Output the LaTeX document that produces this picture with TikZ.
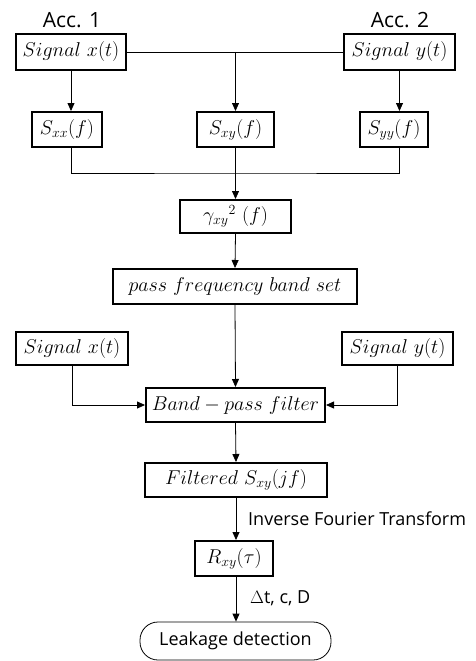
\RequirePackage{fix-cm}
\documentclass[tikz,border=0pt]{standalone}
\usepackage{fontspec}
\setsansfont{Open Sans}
\usepackage{tikz}
\usetikzlibrary{arrows.meta}

\begin{document}
\begin{tikzpicture}[
  x=1pt, y=-1pt,
  blk/.style={draw, line width=2pt, inner sep=0pt, minimum height=35pt, align=center, font=\fontsize{20}{23}\selectfont},
  acctitle/.style={font=\sffamily\fontsize{21}{24}\selectfont},
  note/.style={anchor=west, inner sep=0pt, font=\sffamily\fontsize{18}{21}\selectfont},
  flow/.style={line width=0.8pt, -{Triangle[length=8pt,width=7pt]}},
  wire/.style={line width=0.8pt}
]
\useasboundingbox (0,0) rectangle (475,661);

% Accelerometers
\node[acctitle] (acc1) at (72,20) {Acc. 1};
\node[acctitle] (acc2) at (400,20) {Acc. 2};
\node[blk, minimum width=110pt, minimum height=36pt] (sigx) at (71,52) {$Signal\ x(t)$};
\node[blk, minimum width=111pt, minimum height=36pt] (sigy) at (399.5,52) {$Signal\ y(t)$};

% Spectra
\node[blk, minimum width=70pt] (sxx) at (67,129.5) {$S_{xx}(f)$};
\node[blk, minimum width=77pt] (sxy) at (235.5,129.5) {$S_{xy}(f)$};
\node[blk, minimum width=68pt] (syy) at (394,129.5) {$S_{yy}(f)$};
\coordinate (join) at (235.5,173);

% Coherence and band
\node[blk, minimum width=111pt, minimum height=33pt] (coh) at (235.5,216.5) {$\gamma_{xy}{}^{2}\ (f)$};
\node[blk, minimum width=244pt] (band) at (235,286.5) {$pass\ frequency\ band\ set$};

% Filtering
\node[blk, minimum width=112pt, minimum height=33pt] (sigxb) at (72,348.5) {$Signal\ x(t)$};
\node[blk, minimum width=111pt, minimum height=33pt] (sigyb) at (397.5,348.5) {$Signal\ y(t)$};
\node[blk, minimum width=179pt, minimum height=34pt] (bpf) at (235.5,405) {$Band - pass\ filter$};
\node[blk, minimum width=182pt, minimum height=34pt] (filt) at (236,480) {$Filtered\ S_{xy}(jf)$};

% Correlation and result
\node[blk, minimum width=78pt] (rxy) at (234,558.5) {$R_{xy}(\tau)$};
\node[draw, line width=0.8pt, rounded corners=18pt, minimum width=191pt, minimum height=38pt, font=\sffamily\fontsize{18}{21}\selectfont] (leak) at (235.5,641) {Leakage detection};
\node[note] (ift) at (248,519) {Inverse Fourier Transform};
\node[note] (tcd) at (250,598) {$\Delta$t, c, D};

% Connectors
\draw[wire] (sigx.east) -- (sigy.west);
\draw[flow] (sxy.north |- sigx.east) -- (sxy.north);
\draw[flow] (sigx.south) -- (sigx.south |- sxx.north);
\draw[flow] (sigy.south) -- (sigy.south |- syy.north);
\draw[wire] (sxx.south -| sigx.south) |- (join) -| (syy.south -| sigy.south);
\draw[flow] (sxy.south) -- (coh.north);
\draw[flow] (coh.south) -- (band.north);
\draw[flow] (band.south) -- (bpf.north);
\draw[flow] (sigxb.south) |- (bpf.west);
\draw[flow] (sigyb.south) |- (bpf.east);
\draw[flow] (bpf.south) -- (filt.north);
\draw[flow] (filt.south) -- (rxy.north -| filt.south);
\draw[flow] (rxy.south -| filt.south) -- (leak.north -| filt.south);

\end{tikzpicture}
\end{document}
